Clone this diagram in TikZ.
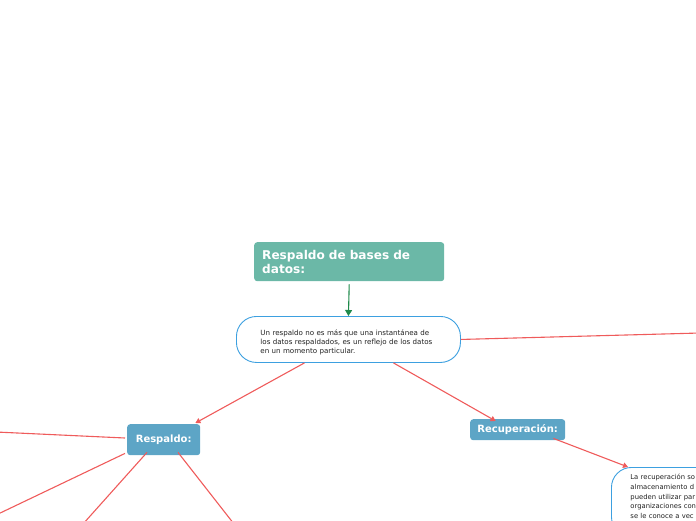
\documentclass[tikz,border=0pt]{standalone}
\usepackage{fontspec}
\setmainfont{DejaVu Sans}
\usetikzlibrary{arrows.meta}
\definecolor{teal1}{HTML}{6BB8A7}
\definecolor{bluefill}{HTML}{5DA5C6}
\definecolor{blueline}{HTML}{3DA0E0}
\definecolor{redline}{HTML}{EF5B5B}
\definecolor{greenarrow}{HTML}{1F8A4B}
\definecolor{textdark}{HTML}{222222}
\tikzset{
  titlebox/.style={fill=teal1, rounded corners=3pt, text=white, font=\bfseries\fontsize{12.1}{14}\selectfont, align=left, anchor=north west, inner xsep=8pt, inner ysep=0pt},
  subbox/.style={fill=bluefill, rounded corners=3pt, text=white, font=\bfseries\fontsize{10}{11}\selectfont, anchor=north west, inner sep=0pt},
  bubble/.style={draw=blueline, line width=0.9pt, rounded corners=20pt, fill=white, align=left, anchor=north west, text=textdark, font=\fontsize{7.1}{9.2}\selectfont},
  redconn/.style={draw=redline, line width=1.1pt},
  redarrow/.style={redconn, -{Triangle[length=5pt,width=5.5pt]}},
  greenconn/.style={draw=greenarrow, line width=1.1pt, -{Triangle[length=6pt,width=7pt]}}
}
\begin{document}
\begin{tikzpicture}[x=1pt,y=-1pt]
\useasboundingbox (0,0) rectangle (696,520);
\clip (0,0) rectangle (696,520);
\node[titlebox, minimum width=190pt, minimum height=39pt, text width=174pt] (title) at (254,242) {Respaldo de bases de\\datos:};
\node[bubble, minimum width=224pt, minimum height=46pt, text width=176pt, inner xsep=24pt] (central) at (236,316) {\rule{0pt}{11pt}Un respaldo no es más que una instantánea de\\los datos respaldados, es un reflejo de los datos\\en un momento particular.};
\node[subbox, minimum width=73pt, minimum height=31pt] (respaldo) at (127,424) {Respaldo:};
\node[subbox, minimum width=95pt, minimum height=21pt] (recup) at (470,419) {Recuperación:};
\node[bubble, minimum width=220pt, text width=190pt, inner xsep=19pt, inner ysep=7pt, font=\fontsize{6.8}{9.7}\selectfont] (rnode) at (611,467) {La recuperación so\\almacenamiento d\\pueden utilizar par\\organizaciones con\\se le conoce a vec\\operativo.};
\coordinate (e1) at (700,333);
\coordinate (e2) at (-4,432);
\coordinate (e3) at (-4,515);
\coordinate (e4) at (83,524);
\coordinate (e5) at (234,524);
\draw[greenconn] ([yshift=-3pt]title.south) -- (central.north);
\draw[redconn] (central.east) -- (e1);
\draw[redarrow] ([xshift=-44pt]central.south) -- ([xshift=-5pt,yshift=1pt]respaldo.north east);
\draw[redarrow] ([xshift=45pt]central.south) -- ([xshift=-22pt,yshift=-2pt]recup.north);
\draw[redarrow] ([xshift=-12pt,yshift=2pt]recup.south east) -- ([xshift=17pt]rnode.north west);
\draw[redconn] ([xshift=-2pt,yshift=-14pt]respaldo.north west) -- (e2);
\draw[redconn] ([xshift=-2pt,yshift=2pt]respaldo.south west) -- (e3);
\draw[redconn] ([xshift=20pt,yshift=3pt]respaldo.south west) -- (e4);
\draw[redconn] ([xshift=51pt,yshift=3pt]respaldo.south west) -- (e5);
\end{tikzpicture}
\end{document}
